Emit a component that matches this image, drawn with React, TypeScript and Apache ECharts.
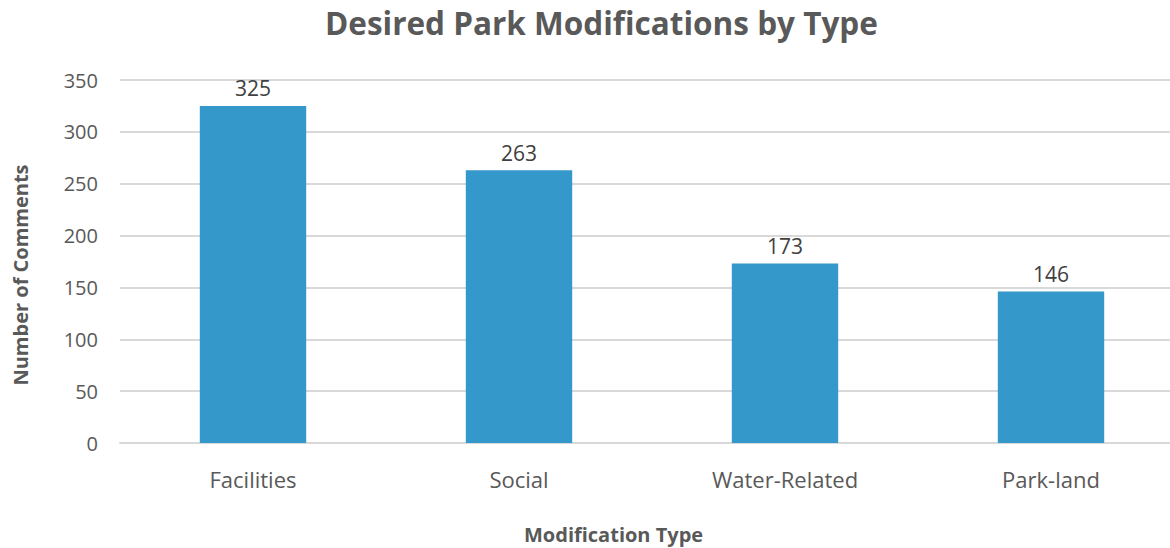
import React, { useEffect, useRef } from "react";
import * as echarts from "echarts";

const categories = ["Facilities", "Social", "Water-Related", "Park-land"];
const comments = [325, 263, 173, 146];
const yTicks = { min: 0, max: 350, interval: 50 };

const FONT = "'Open Sans', 'Noto Sans', sans-serif";
const TEXT = "#595959";

export default function App() {
  const ref = useRef<HTMLDivElement>(null);
  useEffect(() => {
    if (!ref.current) return;
    const chart = echarts.init(ref.current, undefined, { renderer: "svg" });
    chart.setOption({
      animation: false,
      backgroundColor: "#ffffff",
      title: {
        text: "Desired Park Modifications by Type",
        left: 320,
        top: 1,
        textStyle: { fontFamily: FONT, fontSize: 31.5, fontWeight: "bold", color: TEXT },
      },
      grid: { left: 120, right: 0, top: 80, bottom: 105, containLabel: false },
      xAxis: {
        type: "category",
        data: categories,
        axisLine: { show: true, lineStyle: { color: "#d9d9d9", width: 2 } },
        axisTick: { show: false },
        axisLabel: { fontFamily: FONT, fontSize: 22, color: TEXT, margin: 25 },
      },
      yAxis: {
        type: "value",
        min: yTicks.min,
        max: yTicks.max,
        interval: yTicks.interval,
        axisLine: { show: false },
        axisTick: { show: false },
        axisLabel: { fontFamily: FONT, fontSize: 20, color: TEXT, margin: 22 },
        splitLine: { lineStyle: { color: "#d9d9d9", width: 2 } },
      },
      graphic: [
        {
          type: "text",
          left: 615 - 91,
          top: 524,
          style: {
            text: "Modification Type",
            fontFamily: FONT,
            fontSize: 20,
            fontWeight: "bold",
            fill: TEXT,
          },
        },
        {
          type: "text",
          x: 10,
          y: 275,
          rotation: Math.PI / 2,
          style: {
            text: "Number of Comments",
            fontFamily: FONT,
            fontSize: 20,
            fontWeight: "bold",
            fill: TEXT,
            align: "center",
            verticalAlign: "top",
          },
        },
      ],
      series: [
        {
          type: "bar",
          data: comments,
          barWidth: "40%",
          itemStyle: { color: "#3498cb" },
          label: {
            show: true,
            position: "top",
            distance: 7,
            fontFamily: FONT,
            fontSize: 21,
            color: "#404040",
          },
        },
      ],
    });
    return () => chart.dispose();
  }, []);
  return (
    <div style={{ width: 1170, height: 548, position: "absolute", left: 0, top: 0, overflow: "hidden", background: "#fff" }}>
      <div ref={ref} style={{ width: 1184, height: 548 }} />
    </div>
  );
}
